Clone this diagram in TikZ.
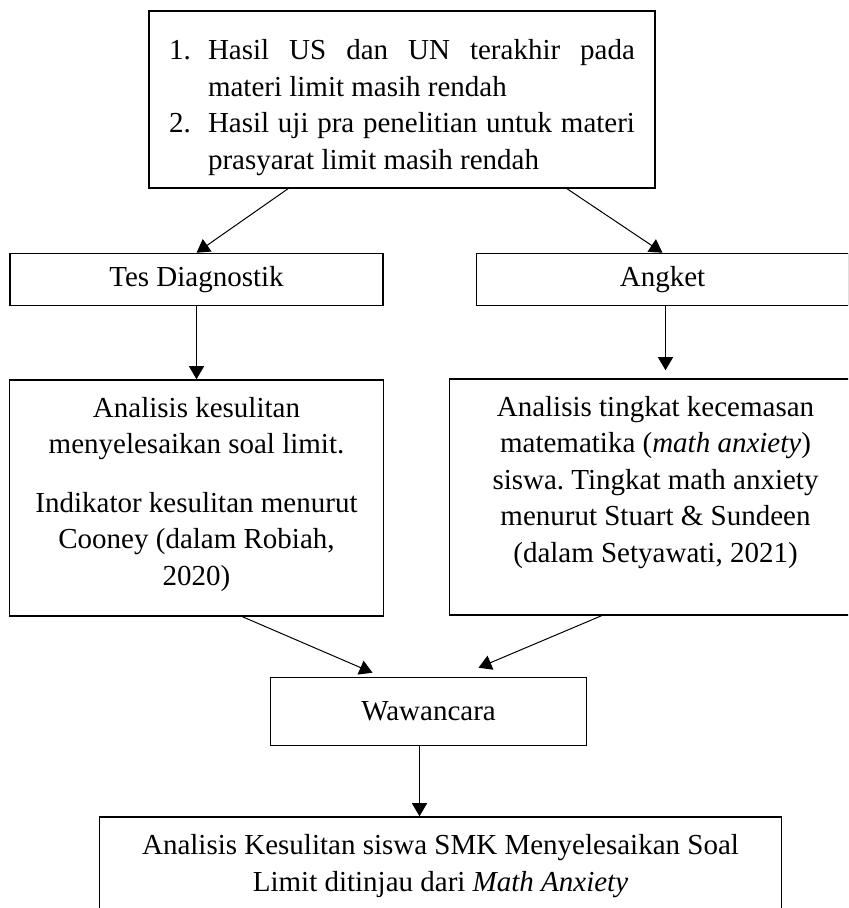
\documentclass[tikz,border=0pt]{standalone}
\usepackage{fontspec}
\setmainfont{Liberation Serif}
\usepackage{enumitem}
\usetikzlibrary{arrows.meta,positioning}
\newcommand{\boxfont}{\fontsize{14.5pt}{18.25pt}\selectfont\frenchspacing}

\begin{document}
\begin{tikzpicture}[
    box/.style={draw, line width=0.75pt, align=center, font=\boxfont, inner xsep=0pt},
    info/.style={box, inner ysep=8.75pt},
    arrow/.style={-{Triangle[length=6.5pt,width=7.5pt]}, line width=0.5pt}
]
\clip (0,0) rectangle (424pt,454pt);
\node[box, minimum width=253pt, minimum height=88.5pt, text width=233pt, align=justify] (problem) at (201pt,404.25pt) {\hyphenpenalty=10000 \tolerance=9999
  \begin{enumerate}[label=\arabic*., leftmargin=19.5pt, labelindent=0pt, labelwidth=11pt, labelsep=8.5pt, align=left, nosep]
  \item Hasil US dan UN terakhir pada materi limit masih rendah
  \item Hasil uji pra penelitian untuk materi prasyarat limit masih rendah
  \end{enumerate}};

\node[box, below=32pt of problem, xshift=-102.75pt, minimum width=186.5pt, minimum height=26pt] (tes) {Tes Diagnostik};
\node[box, right=46pt of tes, minimum width=186pt, minimum height=26pt] (angket) {Angket};

\node[info, below=36.5pt of tes, minimum width=187pt, text height=94pt, text depth=6.5pt] (kesulitan) {Analisis kesulitan\\
  menyelesaikan soal limit.\\[11pt]
  Indikator kesulitan menurut\\
  Cooney (dalam Robiah,\\
  2020)};
\node[info, below=36pt of angket, xshift=-3.5pt, minimum width=206pt, text height=83pt, text depth=17.5pt] (kecemasan) {Analisis tingkat kecemasan\\
  matematika (\textit{math anxiety})\\
  siswa. Tingkat math anxiety\\
  menurut Stuart \& Sundeen\\
  (dalam Setyawati, 2021)};

\node[box, below=30pt of kesulitan, xshift=116pt, minimum width=158pt, minimum height=34pt] (wawancara) {Wawancara};
\node[box, below=35pt of wawancara, xshift=6pt, minimum width=341pt, text height=28.25pt, text depth=40pt, inner ysep=9pt] (hasil) {Analisis Kesulitan siswa SMK Menyelesaikan Soal\\
  Limit ditinjau dari \textit{Math Anxiety}};

\draw[arrow] ([xshift=-57pt]problem.south) -- (tes.north);
\draw[arrow] ([xshift=82.5pt]problem.south) -- (angket.north);
\draw[arrow] (tes.south) -- (kesulitan.north);
\draw[arrow, shorten >=4pt] ([xshift=1.5pt]angket.south) -- ([xshift=1.5pt]angket.south |- kecemasan.north);
\draw[arrow] ([xshift=23pt]kesulitan.south) -- ([xshift=-28pt, yshift=2pt]wawancara.north);
\draw[arrow] ([xshift=-27pt]kecemasan.south) -- ([xshift=25pt, yshift=4.5pt]wawancara.north);
\draw[arrow] ([xshift=-4.5pt]wawancara.south) -- ([xshift=-4.5pt]wawancara.south |- hasil.north);
\end{tikzpicture}
\end{document}
